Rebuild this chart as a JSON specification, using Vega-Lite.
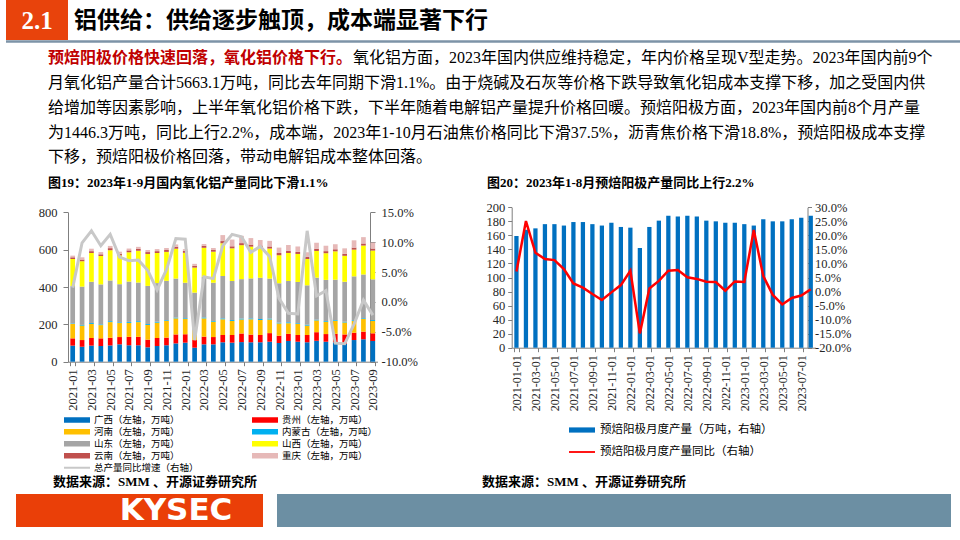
{
  "$schema": "https://vega.github.io/schema/vega-lite/v6.json",
  "width": 960,
  "height": 540,
  "autosize": {"type": "fit", "contains": "padding"},
  "padding": 0,
  "background": "white",
  "config": {
    "view": {"stroke": null},
    "font": "Liberation Serif, Noto Sans CJK SC",
    "axis": {"grid": false, "title": null, "labelFont": "Liberation Serif", "labelColor": "#262626", "domainColor": "#7F7F7F", "tickColor": "#7F7F7F", "labelFontSize": 12.5}
  },
  "resolve": {
    "scale": {"x": "independent", "y": "independent", "color": "independent"},
    "axis": {"x": "independent", "y": "independent"},
    "legend": {"color": "independent"}
  },
  "layer": [
    {
      "data": {"values": [{}]},
      "mark": {"type": "rect", "color": "#E8430C"},
      "encoding": {"x": {"value": 0}, "x2": {"value": 62}, "y": {"value": 0}, "y2": {"value": 40}}
    },
    {
      "data": {"values": [{}]},
      "mark": {"type": "rule", "stroke": "#7D93A7", "strokeWidth": 2.5},
      "encoding": {"x": {"value": 0}, "x2": {"value": 960}, "y": {"value": 41.5}}
    },
    {
      "data": {"values": [{"t": "2.1"}]},
      "mark": {"type": "text", "color": "white", "font": "Liberation Serif", "fontWeight": "bold", "fontSize": 25, "align": "center", "baseline": "middle"},
      "encoding": {"text": {"field": "t"}, "x": {"value": 31}, "y": {"value": 21}}
    },
    {
      "data": {"values": [{"t": "铝供给：供给逐步触顶，成本端显著下行"}]},
      "mark": {"type": "text", "color": "#000000", "font": "Noto Sans CJK SC", "fontWeight": "bold", "fontSize": 23, "align": "left", "baseline": "middle"},
      "encoding": {"text": {"field": "t"}, "x": {"value": 68}, "y": {"value": 21}}
    },
    {
      "data": {"values": [{"t": "预焙阳极价格快速回落，氧化铝价格下行。"}]},
      "mark": {"type": "text", "color": "#C00000", "font": "Liberation Serif, Noto Sans CJK SC", "fontWeight": "bold", "fontSize": 16, "align": "left", "baseline": "alphabetic"},
      "encoding": {"text": {"field": "t"}, "x": {"value": 42}, "y": {"value": 63}}
    },
    {
      "data": {"values": [{"t": "氧化铝方面，2023年国内供应维持稳定，年内价格呈现V型走势。2023年国内前9个"}]},
      "mark": {"type": "text", "color": "#000000", "font": "Liberation Serif, Noto Sans CJK SC", "fontSize": 16, "align": "left", "baseline": "alphabetic"},
      "encoding": {"text": {"field": "t"}, "x": {"value": 347}, "y": {"value": 63}}
    },
    {
      "data": {"values": [{}]},
      "mark": {"type": "text", "color": "#000000", "font": "Liberation Serif, Noto Sans CJK SC", "fontSize": 16, "align": "left", "baseline": "alphabetic", "lineHeight": 24.8,
        "text": ["月氧化铝产量合计5663.1万吨，同比去年同期下滑1.1%。由于烧碱及石灰等价格下跌导致氧化铝成本支撑下移，加之受国内供",
                 "给增加等因素影响，上半年氧化铝价格下跌，下半年随着电解铝产量提升价格回暖。预焙阳极方面，2023年国内前8个月产量",
                 "为1446.3万吨，同比上行2.2%，成本端，2023年1-10月石油焦价格同比下滑37.5%，沥青焦价格下滑18.8%，预焙阳极成本支撑",
                 "下移，预焙阳极价格回落，带动电解铝成本整体回落。"]},
      "encoding": {"x": {"value": 42}, "y": {"value": 88}}
    },
    {
      "data": {"values": [{"t": "图19：2023年1-9月国内氧化铝产量同比下滑1.1%"}]},
      "mark": {"type": "text", "color": "#000000", "font": "Liberation Serif, Noto Sans CJK SC", "fontWeight": "bold", "fontSize": 13, "align": "left", "baseline": "middle"},
      "encoding": {"text": {"field": "t"}, "x": {"value": 42}, "y": {"value": 183}}
    },
    {
      "data": {"values": [{"t": "图20：2023年1-8月预焙阳极产量同比上行2.2%"}]},
      "mark": {"type": "text", "color": "#000000", "font": "Liberation Serif, Noto Sans CJK SC", "fontWeight": "bold", "fontSize": 13, "align": "left", "baseline": "middle"},
      "encoding": {"text": {"field": "t"}, "x": {"value": 481}, "y": {"value": 183}}
    },
    {
      "data": {"values": [{"t": "数据来源：SMM 、开源证券研究所"}]},
      "mark": {"type": "text", "color": "#000000", "font": "Liberation Serif, Noto Sans CJK SC", "fontWeight": "bold", "fontSize": 13, "align": "left", "baseline": "middle"},
      "encoding": {"text": {"field": "t"}, "x": {"value": 47}, "y": {"value": 482}}
    },
    {
      "data": {"values": [{"t": "数据来源：SMM 、开源证券研究所"}]},
      "mark": {"type": "text", "color": "#000000", "font": "Liberation Serif, Noto Sans CJK SC", "fontWeight": "bold", "fontSize": 13, "align": "left", "baseline": "middle"},
      "encoding": {"text": {"field": "t"}, "x": {"value": 476}, "y": {"value": 482}}
    },
    {
      "data": {"values": [{}]},
      "mark": {"type": "rect", "color": "#EA3F08"},
      "encoding": {"x": {"value": 10}, "x2": {"value": 257}, "y": {"value": 494}, "y2": {"value": 527}}
    },
    {
      "data": {"values": [{}]},
      "mark": {"type": "rect", "color": "#6C8FA3"},
      "encoding": {"x": {"value": 271}, "x2": {"value": 945}, "y": {"value": 494}, "y2": {"value": 527}}
    },
    {
      "data": {"values": [{"t": "KYSEC"}]},
      "mark": {"type": "text", "color": "white", "font": "DejaVu Sans", "fontWeight": "bold", "fontSize": 31, "align": "center", "baseline": "middle"},
      "encoding": {"text": {"field": "t"}, "x": {"value": 170}, "y": {"value": 511}}
    },
    {
      "data": {"values": [
        {"m": "2021-01", "广西": 86, "贵州": 39, "河南": 77, "内蒙古": 3, "山东": 200, "山西": 145, "云南": 9, "重庆": 9, "yoy": 2.4},
        {"m": "2021-02", "广西": 80, "贵州": 36, "河南": 77, "内蒙古": 4, "山东": 205, "山西": 136, "云南": 9, "重庆": 12, "yoy": 9.9},
        {"m": "2021-03", "广西": 86, "贵州": 41, "河南": 75, "内蒙古": 5, "山东": 221, "山西": 154, "云南": 10, "重庆": 13, "yoy": 11.9},
        {"m": "2021-04", "广西": 84, "贵州": 41, "河南": 71, "内蒙古": 4, "山东": 214, "山西": 152, "云南": 9, "重庆": 12, "yoy": 9.4},
        {"m": "2021-05", "广西": 87, "贵州": 41, "河南": 84, "内蒙古": 5, "山东": 218, "山西": 162, "云南": 11, "重庆": 12, "yoy": 11.3},
        {"m": "2021-06", "广西": 93, "贵州": 39, "河南": 75, "内蒙古": 4, "山东": 204, "山西": 154, "云南": 9, "重庆": 11, "yoy": 7.5},
        {"m": "2021-07", "广西": 88, "贵州": 45, "河南": 75, "内蒙古": 5, "山东": 216, "山西": 157, "云南": 10, "重庆": 10, "yoy": 6.9},
        {"m": "2021-08", "广西": 88, "贵州": 45, "河南": 79, "内蒙古": 5, "山东": 207, "山西": 170, "云南": 10, "重庆": 11, "yoy": 7.0},
        {"m": "2021-09", "广西": 77, "贵州": 41, "河南": 79, "内蒙古": 5, "山东": 204, "山西": 171, "云南": 10, "重庆": 11, "yoy": 5.3},
        {"m": "2021-10", "广西": 84, "贵州": 43, "河南": 82, "内蒙古": 5, "山东": 207, "山西": 161, "云南": 10, "重庆": 11, "yoy": 2.0},
        {"m": "2021-11", "广西": 88, "贵州": 41, "河南": 89, "内蒙古": 4, "山东": 211, "山西": 155, "云南": 10, "重庆": 11, "yoy": 5.4},
        {"m": "2021-12", "广西": 98, "贵州": 48, "河南": 86, "内蒙古": 4, "山东": 209, "山西": 160, "云南": 11, "重庆": 12, "yoy": 10.6},
        {"m": "2022-01", "广西": 102, "贵州": 45, "河南": 82, "内蒙古": 4, "山东": 190, "山西": 160, "云南": 11, "重庆": 9, "yoy": 10.5},
        {"m": "2022-02", "广西": 75, "贵州": 41, "河南": 54, "内蒙古": 3, "山东": 197, "山西": 134, "云南": 9, "重庆": 11, "yoy": -6.4},
        {"m": "2022-03", "广西": 93, "贵州": 41, "河南": 98, "内蒙古": 5, "山东": 218, "山西": 155, "云南": 11, "重庆": 9, "yoy": 4.2},
        {"m": "2022-04", "广西": 93, "贵州": 39, "河南": 82, "内蒙古": 4, "山东": 205, "山西": 166, "云南": 11, "重庆": 9, "yoy": 3.9},
        {"m": "2022-05", "广西": 104, "贵州": 39, "河南": 84, "内蒙古": 5, "山东": 227, "山西": 175, "云南": 12, "重庆": 32, "yoy": 9.4},
        {"m": "2022-06", "广西": 102, "贵州": 41, "河南": 75, "内蒙古": 5, "山东": 209, "山西": 175, "云南": 11, "重庆": 36, "yoy": 11.3},
        {"m": "2022-07", "广西": 105, "贵州": 46, "河南": 75, "内蒙古": 5, "山东": 211, "山西": 182, "云南": 11, "重庆": 39, "yoy": 10.9},
        {"m": "2022-08", "广西": 104, "贵州": 41, "河南": 82, "内蒙古": 5, "山东": 214, "山西": 170, "云南": 11, "重庆": 35, "yoy": 8.3},
        {"m": "2022-09", "广西": 104, "贵州": 39, "河南": 80, "内蒙古": 5, "山东": 221, "山西": 161, "云南": 12, "重庆": 30, "yoy": 9.3},
        {"m": "2022-10", "广西": 107, "贵州": 46, "河南": 73, "内蒙古": 5, "山东": 214, "山西": 161, "云南": 11, "重庆": 30, "yoy": 7.6},
        {"m": "2022-11", "广西": 100, "贵州": 39, "河南": 66, "内蒙古": 4, "山东": 211, "山西": 150, "云南": 12, "重庆": 29, "yoy": 0.6},
        {"m": "2022-12", "广西": 111, "贵州": 38, "河南": 57, "内蒙古": 5, "山东": 221, "山西": 150, "云南": 11, "重庆": 32, "yoy": -1.9},
        {"m": "2023-01", "广西": 107, "贵州": 36, "河南": 59, "内蒙古": 4, "山东": 221, "山西": 150, "云南": 11, "重庆": 29, "yoy": -2.0},
        {"m": "2023-02", "广西": 104, "贵州": 39, "河南": 50, "内蒙古": 5, "山东": 211, "山西": 141, "云南": 11, "重庆": 25, "yoy": 11.9},
        {"m": "2023-03", "广西": 112, "贵州": 46, "河南": 63, "内蒙古": 4, "山东": 225, "山西": 143, "云南": 12, "重庆": 32, "yoy": 1.0},
        {"m": "2023-04", "广西": 107, "贵州": 41, "河南": 66, "内蒙古": 4, "山东": 220, "山西": 143, "云南": 11, "重庆": 29, "yoy": 1.9},
        {"m": "2023-05", "广西": 104, "贵州": 45, "河南": 70, "内蒙古": 4, "山东": 216, "山西": 152, "云南": 11, "重庆": 27, "yoy": -6.9},
        {"m": "2023-06", "广西": 96, "贵州": 50, "河南": 64, "内蒙古": 4, "山东": 214, "山西": 139, "云南": 11, "重庆": 29, "yoy": -7.0},
        {"m": "2023-07", "广西": 116, "贵州": 39, "河南": 64, "内蒙古": 4, "山东": 234, "山西": 143, "云南": 11, "重庆": 39, "yoy": -3.7},
        {"m": "2023-08", "广西": 120, "贵州": 41, "河南": 68, "内蒙古": 4, "山东": 234, "山西": 155, "云南": 11, "重庆": 34, "yoy": 0.3},
        {"m": "2023-09", "广西": 111, "贵州": 41, "河南": 66, "内蒙古": 5, "山东": 218, "山西": 154, "云南": 11, "重庆": 32, "yoy": -2.2}
      ]},
      "layer": [
        {
          "transform": [
            {"fold": ["广西", "贵州", "河南", "内蒙古", "山东", "山西", "云南", "重庆"], "as": ["p", "v"]},
            {"calculate": "indexof(['广西','贵州','河南','内蒙古','山东','山西','云南','重庆'], datum.p)", "as": "o"}
          ],
          "mark": {"type": "bar"},
          "encoding": {
            "x": {"field": "m", "type": "ordinal", "sort": null,
              "scale": {"range": [62, 371.5], "paddingInner": 0.5, "paddingOuter": 0.25},
              "axis": {"orient": "bottom", "offset": -178.3, "labelAngle": -90, "labelAlign": "right", "labelBaseline": "middle", "labelFontSize": 12.5, "labelPadding": 3, "tickSize": 4, "tickBand": "extent",
                "values": ["2021-01", "2021-03", "2021-05", "2021-07", "2021-09", "2021-11", "2022-01", "2022-03", "2022-05", "2022-07", "2022-09", "2022-11", "2023-01", "2023-03", "2023-05", "2023-07", "2023-09"]}},
            "y": {"field": "v", "type": "quantitative", "stack": "zero",
              "scale": {"domain": [0, 800], "range": [361.7, 212.3], "nice": false},
              "axis": {"orient": "left", "offset": -62, "values": [0, 200, 400, 600, 800], "format": "d", "tickSize": 5, "labelPadding": 6}},
            "color": {"field": "p", "type": "nominal",
              "scale": {"domain": ["广西", "河南", "山东", "云南", "总产量同比增速", "贵州", "内蒙古", "山西", "重庆"],
                        "range": ["#0070C0", "#FFC000", "#A5A5A5", "#C0504D", "#C8C8C8", "#FF0000", "#00B0F0", "#FFFF00", "#E6B9B8"]},
              "legend": {"orient": "none", "legendX": 58, "legendY": 414, "columns": 2, "columnPadding": 53, "rowPadding": 0, "clipHeight": 11.5, "title": null,
                "symbolType": "M-1,-0.22H1V0.22H-1Z", "symbolSize": 676, "symbolStrokeWidth": 0, "labelFont": "Noto Sans CJK SC", "labelFontSize": 9.5, "labelColor": "#000000", "labelOffset": 4, "labelLimit": 300,
                "labelExpr": "datum.label == '总产量同比增速' ? '总产量同比增速（右轴）' : datum.label + '（左轴，万吨）'",
                "encode": {"symbols": {"update": {"shape": {"signal": "datum.value === '总产量同比增速' ? 'M-1,-0.07H1V0.07H-1Z' : 'M-1,-0.22H1V0.22H-1Z'"}}}}}},
            "order": {"field": "o", "type": "quantitative"}
          }
        },
        {
          "mark": {"type": "line", "strokeWidth": 3},
          "encoding": {
            "x": {"field": "m", "type": "ordinal", "sort": null},
            "y": {"field": "yoy", "type": "quantitative",
              "scale": {"domain": [-10, 15], "range": [361.7, 212.3], "nice": false},
              "axis": {"orient": "right", "offset": -588, "values": [-10, -5, 0, 5, 10, 15], "tickSize": 5, "labelPadding": 6,
                "labelExpr": "(datum.value < 0 ? '-' : '') + format(abs(datum.value), '.1f') + '%'"}},
            "color": {"datum": "总产量同比增速"}
          }
        }
      ],
      "resolve": {"scale": {"y": "independent"}, "axis": {"y": "independent"}}
    },
    {
      "data": {"values": [
        {"m": "2021-01-01", "v": 159, "yoy": 7.1},
        {"m": "2021-02-01", "v": 168, "yoy": 25.1},
        {"m": "2021-03-01", "v": 170, "yoy": 13.8},
        {"m": "2021-04-01", "v": 176, "yoy": 11.6},
        {"m": "2021-05-01", "v": 176, "yoy": 11.2},
        {"m": "2021-06-01", "v": 174, "yoy": 8.0},
        {"m": "2021-07-01", "v": 179, "yoy": 2.9},
        {"m": "2021-08-01", "v": 179, "yoy": 1.4},
        {"m": "2021-09-01", "v": 176, "yoy": -0.9},
        {"m": "2021-10-01", "v": 174, "yoy": -3.0},
        {"m": "2021-11-01", "v": 178, "yoy": -0.3},
        {"m": "2021-12-01", "v": 172, "yoy": 2.3},
        {"m": "2022-01-01", "v": 171, "yoy": 7.4},
        {"m": "2022-02-01", "v": 142, "yoy": -14.9},
        {"m": "2022-03-01", "v": 172, "yoy": 1.1},
        {"m": "2022-04-01", "v": 181, "yoy": 3.8},
        {"m": "2022-05-01", "v": 188, "yoy": 7.4},
        {"m": "2022-06-01", "v": 187, "yoy": 7.7},
        {"m": "2022-07-01", "v": 188, "yoy": 5.1},
        {"m": "2022-08-01", "v": 187, "yoy": 4.5},
        {"m": "2022-09-01", "v": 181, "yoy": 3.5},
        {"m": "2022-10-01", "v": 180, "yoy": 3.4},
        {"m": "2022-11-01", "v": 178, "yoy": 0.3},
        {"m": "2022-12-01", "v": 178, "yoy": 3.6},
        {"m": "2023-01-01", "v": 176, "yoy": 3.4},
        {"m": "2023-02-01", "v": 174, "yoy": 21.9},
        {"m": "2023-03-01", "v": 183, "yoy": 5.5},
        {"m": "2023-04-01", "v": 180, "yoy": -1.2},
        {"m": "2023-05-01", "v": 180, "yoy": -4.6},
        {"m": "2023-06-01", "v": 183, "yoy": -2.3},
        {"m": "2023-07-01", "v": 185, "yoy": -1.4},
        {"m": "2023-08-01", "v": 188, "yoy": 0.8}
      ]},
      "layer": [
        {
          "mark": {"type": "bar"},
          "encoding": {
            "x": {"field": "m", "type": "ordinal", "sort": null,
              "scale": {"range": [505.7, 809.5], "paddingInner": 0.55, "paddingOuter": 0.275},
              "axis": {"orient": "bottom", "offset": -192.3, "labelAngle": -90, "labelAlign": "right", "labelBaseline": "middle", "labelFontSize": 12, "labelPadding": 3, "tickSize": 4, "tickBand": "extent",
                "values": ["2021-01-01", "2021-03-01", "2021-05-01", "2021-07-01", "2021-09-01", "2021-11-01", "2022-01-01", "2022-03-01", "2022-05-01", "2022-07-01", "2022-09-01", "2022-11-01", "2023-01-01", "2023-03-01", "2023-05-01", "2023-07-01"]}},
            "y": {"field": "v", "type": "quantitative",
              "scale": {"domain": [0, 200], "range": [347.7, 207.3], "nice": false},
              "axis": {"orient": "left", "offset": -505.7, "values": [0, 20, 40, 60, 80, 100, 120, 140, 160, 180, 200], "format": "d", "tickSize": 4, "labelPadding": 3}},
            "color": {"datum": "预焙阳极月度产量（万吨，右轴）",
              "scale": {"domain": ["预焙阳极月度产量（万吨，右轴）", "预焙阳极月度产量同比（右轴）"], "range": ["#0070C0", "#FF0000"]},
              "legend": {"orient": "none", "legendX": 563, "legendY": 417, "direction": "vertical", "rowPadding": 3, "title": null,
                "symbolType": "M-1,-0.2H1V0.2H-1Z", "symbolSize": 676, "symbolStrokeWidth": 0, "labelFont": "Noto Sans CJK SC", "labelFontSize": 11.5, "labelColor": "#000000", "labelOffset": 5, "labelLimit": 300,
                "encode": {"symbols": {"update": {"shape": {"signal": "datum.value === '预焙阳极月度产量同比（右轴）' ? 'M-1,-0.07H1V0.07H-1Z' : 'M-1,-0.2H1V0.2H-1Z'"}}}}}}
          }
        },
        {
          "mark": {"type": "line", "strokeWidth": 2.5},
          "encoding": {
            "x": {"field": "m", "type": "ordinal", "sort": null},
            "y": {"field": "yoy", "type": "quantitative",
              "scale": {"domain": [-20, 30], "range": [347.7, 207.3], "nice": false},
              "axis": {"orient": "right", "offset": -150.5, "values": [-20, -15, -10, -5, 0, 5, 10, 15, 20, 25, 30], "tickSize": 4, "labelPadding": 3,
                "labelExpr": "(datum.value < 0 ? '-' : '') + format(abs(datum.value), '.1f') + '%'"}},
            "color": {"datum": "预焙阳极月度产量同比（右轴）"}
          }
        }
      ],
      "resolve": {"scale": {"y": "independent"}, "axis": {"y": "independent"}}
    }
  ]
}
